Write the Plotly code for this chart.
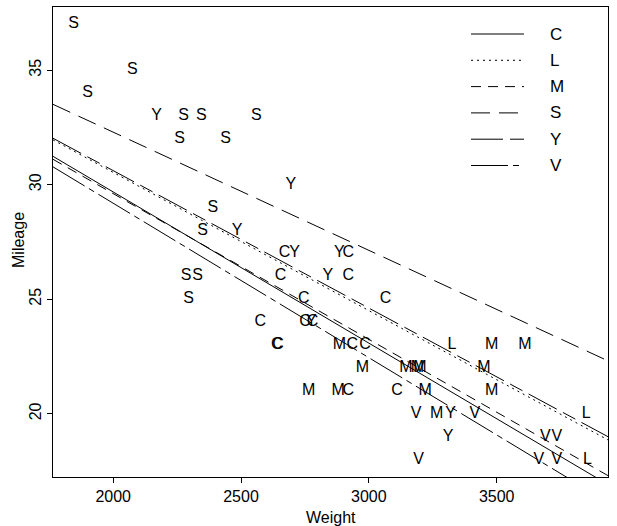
import plotly.graph_objects as go

# ---- data (car.test.frame style: Weight, Mileage, Type code) ----
weight = [2560, 2345, 1845, 2260, 2440, 2285, 2275, 2350, 2295, 1900, 2390, 2075, 2330,
          3320, 2885, 3310, 2695, 2170, 2710, 2775, 2840, 2485,
          2670, 2640, 2655, 3065, 2750, 2920, 2780, 2745, 3110, 2920, 2645, 2575, 2935, 2920, 2985,
          3265, 2880, 2975, 3450, 3145, 3190, 3610, 2885, 3480, 3200, 2765, 3220, 3480,
          3325, 3855, 3850,
          3195, 3735, 3665, 3735, 3415, 3185, 3690]
mileage = [33, 33, 37, 32, 32, 26, 33, 28, 25, 34, 29, 35, 26,
           20, 27, 19, 30, 33, 27, 24, 26, 28,
           27, 23, 26, 25, 24, 26, 24, 25, 21, 21, 23, 24, 23, 27, 23,
           20, 21, 22, 22, 22, 22, 23, 23, 21, 22, 21, 21, 23,
           23, 18, 20,
           18, 18, 18, 19, 20, 20, 19]
car_type = (["S"] * 13 + ["Y"] * 9 + ["C"] * 15 + ["M"] * 13 + ["L"] * 3 + ["V"] * 7)

# fitted lines, read at the left and right edges of the weight axis
line_types = ["C", "L", "M", "S", "Y", "V"]
line_weight_ends = [1764.6, 3935.4]
line_left = [31.24, 31.96, 31.11, 33.51, 32.03, 30.78]
line_right = [16.91, 18.86, 17.30, 22.31, 19.00, 16.14]

x_ticks = [2000, 2500, 3000, 3500]
y_ticks = [20, 25, 30, 35]
x_range = [1764.6, 3935.4]
y_range = [17.24, 37.76]

# ---- styles ----
FONT = "Liberation Sans, Arial, Helvetica, sans-serif"
dash_style = {
    "C": "solid",
    "L": "2px,4px",
    "M": "10px,7px",
    "S": "19px,9px",
    "Y": "32px,7px,14px,7px",
    "V": "37px,5px,6px,5px",
}

fig = go.Figure()

for t in ["S", "Y", "C", "M", "L", "V"]:
    xs = [w for w, c in zip(weight, car_type) if c == t]
    ys = [m for m, c in zip(mileage, car_type) if c == t]
    fig.add_trace(go.Scatter(
        x=xs, y=ys, mode="text", text=[t] * len(xs),
        textposition="middle center",
        textfont=dict(family=FONT, size=16, color="black"),
        showlegend=False, cliponaxis=False, hoverinfo="x+y+text"))

for t, yl, yr in zip(line_types, line_left, line_right):
    fig.add_trace(go.Scatter(
        x=line_weight_ends, y=[yl, yr], mode="lines",
        line=dict(color="black", width=1, dash=dash_style[t]),
        showlegend=False, hoverinfo="skip"))

# ---- manual legend (top right, inside plot) ----
plot_l, plot_r, plot_t, plot_b = 53, 608, 7, 477
pw, ph = plot_r - plot_l, plot_b - plot_t
leg_x0, leg_x1, leg_lab = 471, 524, 548
leg_y0, leg_dy = 34, 26.3
for i, t in enumerate(line_types):
    py = leg_y0 + i * leg_dy
    yp = (plot_b - py) / ph
    fig.add_shape(type="line", xref="paper", yref="paper",
                  x0=(leg_x0 - plot_l) / pw, x1=(leg_x1 - plot_l) / pw, y0=yp, y1=yp,
                  line=dict(color="black", width=1, dash=dash_style[t]))
    fig.add_annotation(xref="paper", yref="paper", x=(leg_lab - plot_l) / pw, y=yp,
                       text=t, showarrow=False, xanchor="left", yanchor="middle",
                       font=dict(family=FONT, size=17, color="black"))

# axis titles placed as annotations
fig.add_annotation(xref="paper", yref="paper", x=0.5, y=(plot_b - 517) / ph,
                   text="Weight", showarrow=False, xanchor="center", yanchor="middle",
                   font=dict(family=FONT, size=16, color="black"))
fig.add_annotation(xref="paper", yref="paper", x=(18 - plot_l) / pw, y=(plot_b - 240) / ph,
                   text="Mileage", showarrow=False, textangle=-90,
                   xanchor="center", yanchor="middle",
                   font=dict(family=FONT, size=16, color="black"))

axis_common = dict(showgrid=False, zeroline=False, showline=True, mirror=True,
                   linecolor="black", linewidth=1, ticks="outside", ticklen=5,
                   tickcolor="black", tickfont=dict(family=FONT, size=16, color="black"))

fig.update_layout(
    width=617, height=526,
    margin=dict(l=plot_l, r=617 - plot_r, t=plot_t, b=526 - plot_b),
    paper_bgcolor="white", plot_bgcolor="white",
    font=dict(family=FONT, size=16, color="black"),
    xaxis=dict(range=x_range, tickvals=x_ticks, ticktext=[str(v) for v in x_ticks],
               **axis_common),
    yaxis=dict(range=y_range, tickvals=y_ticks, ticktext=[str(v) for v in y_ticks],
               tickangle=-90, **axis_common),
    showlegend=False,
)

fig.write_html("out.html")
